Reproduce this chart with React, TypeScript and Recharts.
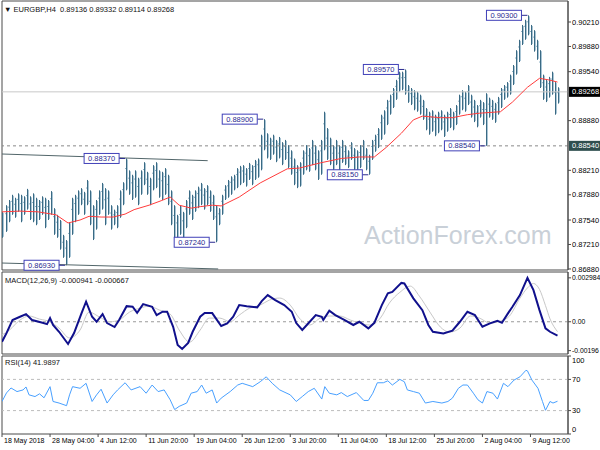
import React from 'react';
import {
  ComposedChart, Bar, Line, XAxis, YAxis, ReferenceLine, ReferenceArea, ReferenceDot,
} from 'recharts';

const FONT = '"Liberation Sans", Arial, sans-serif';

// ---------- data ----------
const BAR_STEP = 2; // each drawn bar spans two H4 periods
const HIGHS = [
  0.8765, 0.8774, 0.8781, 0.8788, 0.8784, 0.8790, 0.8788, 0.8786, 0.8796, 0.8786,
  0.8790, 0.8784, 0.8781, 0.8786, 0.8784, 0.8781, 0.8793, 0.8770, 0.8761, 0.8754,
  0.8734, 0.8727, 0.8751, 0.8784, 0.8788, 0.8794, 0.8797, 0.8792, 0.8808, 0.8794,
  0.8774, 0.8781, 0.8794, 0.8804, 0.8797, 0.8794, 0.8774, 0.8768, 0.8774, 0.8794,
  0.8805, 0.8837, 0.8821, 0.8815, 0.8821, 0.8811, 0.8821, 0.8832, 0.8819, 0.8811,
  0.8828, 0.8832, 0.8821, 0.8819, 0.8824, 0.8815, 0.8794, 0.8774, 0.8761, 0.8774,
  0.8765, 0.8781, 0.8794, 0.8788, 0.8794, 0.8799, 0.8804, 0.8797, 0.8801, 0.8794,
  0.8788, 0.8774, 0.8770, 0.8788, 0.8801, 0.8808, 0.8813, 0.8815, 0.8824, 0.8827,
  0.8828, 0.8824, 0.8831, 0.8828, 0.8835, 0.8837, 0.8869, 0.8890, 0.8871, 0.8865,
  0.8869, 0.8862, 0.8866, 0.8859, 0.8862, 0.8855, 0.8848, 0.8837, 0.8828, 0.8832,
  0.8848, 0.8855, 0.8851, 0.8862, 0.8855, 0.8848, 0.8862, 0.8900, 0.8878, 0.8865,
  0.8855, 0.8862, 0.8855, 0.8862, 0.8855, 0.8848, 0.8859, 0.8851, 0.8848, 0.8855,
  0.8862, 0.8851, 0.8842, 0.8862, 0.8869, 0.8878, 0.8896, 0.8902, 0.8916, 0.8923,
  0.8932, 0.8943, 0.8954, 0.8954, 0.8957, 0.8936, 0.8932, 0.8929, 0.8927, 0.8923,
  0.8916, 0.8905, 0.8900, 0.8902, 0.8896, 0.8900, 0.8902, 0.8896, 0.8900, 0.8905,
  0.8900, 0.8909, 0.8923, 0.8929, 0.8927, 0.8936, 0.8923, 0.8916, 0.8909, 0.8916,
  0.8913, 0.8925, 0.8919, 0.8916, 0.8912, 0.8920, 0.8932, 0.8936, 0.8940, 0.8950,
  0.8963, 0.8983, 0.8997, 0.9017, 0.9024, 0.9030, 0.9017, 0.9010, 0.8997, 0.8983,
  0.8950, 0.8943, 0.8947, 0.8954, 0.8940, 0.8933,
];
const LOWS = [
  0.8730, 0.8738, 0.8751, 0.8761, 0.8757, 0.8765, 0.8751, 0.8761, 0.8768, 0.8754,
  0.8751, 0.8747, 0.8754, 0.8761, 0.8743, 0.8754, 0.8761, 0.8734, 0.8730, 0.8714,
  0.8703, 0.8693, 0.8703, 0.8734, 0.8751, 0.8761, 0.8774, 0.8761, 0.8774, 0.8747,
  0.8727, 0.8741, 0.8761, 0.8768, 0.8747, 0.8761, 0.8741, 0.8747, 0.8743, 0.8757,
  0.8774, 0.8794, 0.8788, 0.8781, 0.8784, 0.8774, 0.8788, 0.8801, 0.8788, 0.8774,
  0.8794, 0.8797, 0.8784, 0.8781, 0.8788, 0.8774, 0.8747, 0.8730, 0.8727, 0.8734,
  0.8727, 0.8743, 0.8761, 0.8754, 0.8765, 0.8770, 0.8774, 0.8768, 0.8774, 0.8765,
  0.8754, 0.8724, 0.8747, 0.8761, 0.8781, 0.8784, 0.8788, 0.8794, 0.8797, 0.8801,
  0.8804, 0.8799, 0.8808, 0.8801, 0.8808, 0.8811, 0.8821, 0.8848, 0.8837, 0.8835,
  0.8842, 0.8832, 0.8837, 0.8828, 0.8835, 0.8824, 0.8815, 0.8801, 0.8797, 0.8799,
  0.8815, 0.8821, 0.8819, 0.8828, 0.8821, 0.8808, 0.8815, 0.8848, 0.8835, 0.8828,
  0.8821, 0.8828, 0.8821, 0.8831, 0.8828, 0.8824, 0.8835, 0.8821, 0.8819, 0.8824,
  0.8835, 0.8821, 0.8815, 0.8835, 0.8846, 0.8851, 0.8862, 0.8869, 0.8882, 0.8896,
  0.8905, 0.8916, 0.8927, 0.8929, 0.8923, 0.8912, 0.8909, 0.8902, 0.8900, 0.8896,
  0.8889, 0.8875, 0.8869, 0.8873, 0.8867, 0.8871, 0.8875, 0.8866, 0.8873, 0.8878,
  0.8875, 0.8882, 0.8896, 0.8902, 0.8900, 0.8909, 0.8892, 0.8886, 0.8879, 0.8892,
  0.8882, 0.8854, 0.8892, 0.8889, 0.8885, 0.8896, 0.8905, 0.8916, 0.8919, 0.8923,
  0.8936, 0.8950, 0.8967, 0.8990, 0.8997, 0.9003, 0.8990, 0.8981, 0.8970, 0.8932,
  0.8916, 0.8913, 0.8919, 0.8923, 0.8896, 0.8911,
];

const MA_IDX = [0, 12, 24, 36, 44, 52, 58, 66, 74, 82, 88, 98, 106, 112, 118, 126, 132, 140, 146, 158,
  172, 190, 198, 212, 226, 238, 248, 256, 266, 274, 280, 292, 300, 310, 318, 332, 340, 350, 358, 364, 370];
const MA_VAL = [0.8765, 0.8766, 0.8765, 0.8761, 0.8750, 0.8754, 0.8759, 0.8758, 0.8758, 0.8762,
  0.8768, 0.8774, 0.8780, 0.8785, 0.8774, 0.8770, 0.8772, 0.8774, 0.8773, 0.8785,
  0.8804, 0.8823, 0.8824, 0.8831, 0.8837, 0.8839, 0.8839, 0.8852, 0.8871, 0.8889,
  0.8894, 0.8892, 0.8892, 0.8896, 0.8898, 0.8900, 0.8913, 0.8933, 0.8945, 0.8943, 0.8940];

const MACD_IDX = [0, 3, 7, 12, 16, 20, 27, 30, 32, 34, 38, 44, 48, 53, 56, 60, 63, 67, 70, 75,
  78, 83, 87, 90, 94, 100, 103, 107, 110, 114, 117, 120, 124, 127, 132, 135, 140, 146, 150, 154,
  158, 163, 170, 173, 177, 182, 188, 193, 196, 200, 205, 209, 213, 214, 218, 222, 228, 234, 238, 244,
  248, 253, 257, 260, 266, 268, 274, 280, 284, 287, 294, 300, 305, 310, 315, 320, 325, 330, 333, 337,
  340, 345, 350, 354, 358, 362, 365, 370];
const MACD_VAL = [-0.00136, -0.00077, 0.00012, 0.00034, 0.00052, 0.00012, -0.00007, -0.00016, 0.00025, -0.00022,
  -0.00068, -0.00151, -0.00077, 0.00059, 0.00136, 0.00034, 0, 0.00052, -0.00009, -0.00036,
  0.00012, 0.00106, 0.00102, 0.00061, 0.0012, 0.00102, 0.00045, 0.00068, 0.00068, -0.00034,
  -0.00158, -0.00185, -0.00144, -0.00068, 0.00034, 0.00059, 0.00059, -0.00029, -0.00011, 0.00034,
  0.00113, 0.00106, 0.00098, 0.0014, 0.00181, 0.00147, 0.00113, 0.00068, -0.00009, -0.00056,
  0, 0.00045, 0.00034, 0.00012, 0.00075, 0.00045, 0.00012, -0.00022, 0, -0.00045,
  -0.00007, 0.00113, 0.00193, 0.00203, 0.00264, 0.0026, 0.00159, 0.00079, -0.00022, -0.00068,
  -0.00079, -0.00061, 0, 0.00068, 0.00045, -0.00034, -0.00011, 0.00007, -0.00007, 0.00057,
  0.00102, 0.00181, 0.00298, 0.00215, 0.00079, -0.00045, -0.00068, -0.00094];

const SIG_IDX = [0, 5, 12, 18, 25, 32, 38, 45, 52, 58, 65, 72, 78, 85, 92, 98, 105, 112, 118, 125,
  132, 138, 145, 152, 158, 165, 172, 178, 185, 192, 198, 205, 212, 218, 225, 232, 238, 245, 252, 258,
  265, 272, 278, 285, 292, 298, 305, 312, 318, 325, 332, 338, 345, 350, 354, 358, 362, 365, 370];
const SIG_VAL = [-0.0009, -0.00056, 0.00012, 0.00039, 0.00018, 0, -0.00043, -0.0011, -0.00056, 0.00066,
  0.00032, 0, 0.00012, 0.00066, 0.00093, 0.00106, 0.00079, 0.00052, -0.00056, -0.00138,
  -0.00056, 0.00025, 0.00025, 0, 0.00045, 0.00093, 0.00113, 0.00147, 0.00161, 0.00113,
  0.00025, -0.00022, 0.00025, 0.00039, 0.00039, 0.00012, -0.00009, -0.00022, 0.00025, 0.00127,
  0.002, 0.00242, 0.00174, 0.00066, -0.00036, -0.0007, -0.00043, 0.00039, 0.00025, -0.00009,
  0.00005, 0.00039, 0.0016, 0.0023, 0.0026, 0.0022, 0.0011, 0.0002, -0.00067];

const RSI_IDX = [0, 3, 6, 10, 14, 16, 18, 22, 25, 28, 32, 34, 38, 43, 45, 47, 52, 56, 60, 63,
  66, 70, 74, 77, 82, 86, 92, 96, 100, 104, 108, 112, 115, 118, 123, 126, 130, 133, 136, 140,
  143, 146, 152, 157, 160, 167, 172, 176, 180, 185, 192, 196, 200, 204, 208, 213, 215, 218, 223, 226,
  230, 236, 241, 244, 247, 250, 254, 257, 260, 265, 268, 270, 274, 278, 282, 287, 293, 297, 300, 304,
  307, 310, 314, 317, 320, 323, 327, 330, 334, 337, 341, 345, 349, 350, 353, 357, 360, 362, 365, 367, 370];
const RSI_VAL = [41.7, 52.7, 59, 54.4, 56.5, 60.3, 50.2, 48, 51.5, 46.4, 60.7, 41.7, 39.7, 36.3, 50.2, 60.7, 58.6, 65, 41.7, 50.2,
  57.4, 39.7, 50.2, 56.5, 65.7, 56.5, 60.7, 52.3, 62.8, 54.4, 56.5, 43.9, 31.3, 35.4, 39.7, 52.3, 54.4, 62.8, 52.3, 56.5,
  39.7, 46, 54.4, 62.8, 65, 60.7, 67, 73.3, 65, 56.5, 50.2, 41.7, 48, 54.4, 58.6, 44.8, 60.7, 52.3, 50.2, 53.1,
  48, 53.1, 43, 43, 52.3, 65.7, 65.7, 68.2, 62.8, 70, 67, 56.5, 54.4, 52.3, 39.7, 41.7, 39.7, 41.7, 46, 58.6,
  62.8, 62.8, 52.3, 43.9, 39.7, 54.4, 52.3, 44.8, 65, 60.7, 69.1, 73.3, 81.7, 80.9, 69.1, 58.6, 41.7, 30.4, 41.7, 39.7, 42.0];

const TIME_TICKS = [0, 32, 64, 96, 128, 160, 192, 224, 256, 288, 320, 352];
const TIME_LABELS = ['18 May 2018', '28 May 04:00', '4 Jun 12:00', '11 Jun 20:00', '19 Jun 04:00', '26 Jun 12:00',
  '3 Jul 20:00', '11 Jul 04:00', '18 Jul 12:00', '25 Jul 20:00', '2 Aug 04:00', '9 Aug 12:00'];
const X_MAX = 377;

const PRICE_DOMAIN = [0.86866, 0.90493];
const PRICE_TICKS = [0.8688, 0.8721, 0.8754, 0.8788, 0.8821, 0.8888, 0.8954, 0.8988, 0.9021];
const MACD_DOMAIN = [-0.00219, 0.00338];
const MACD_TICKS = [-0.00196, 0, 0.002984];
const RSI_TICKS = [0, 30, 70, 100];

const SWING_IDX = [42, 82, 142, 174, 244, 268, 322, 350];
const SWING_PRICE = [0.8693, 0.8837, 0.8724, 0.8890, 0.8815, 0.8957, 0.8854, 0.9030];

const LAST_PRICE = 0.89268;
const SUPPORT = 0.8854;
const CHANNEL_UPPER = [{ x: 0, y: 0.8843 }, { x: 137, y: 0.8834 }];
const CHANNEL_LOWER = [{ x: 0, y: 0.8696 }, { x: 144, y: 0.8688 }];

// ---------- tables ----------
const mainRows: any[] = HIGHS.map((h, i) => ({ idx: i * BAR_STEP, hl: [LOWS[i], h] }));
MA_IDX.forEach((ix, j) => {
  const r = mainRows.find((row) => row.idx === ix);
  if (r) r.ma = MA_VAL[j];
});

function mergeRows(parts: [number[], number[], string][]) {
  const m = new Map<number, any>();
  parts.forEach(([ids, vals, key]) => {
    ids.forEach((ix, j) => {
      if (!m.has(ix)) m.set(ix, { idx: ix });
      m.get(ix)[key] = vals[j];
    });
  });
  return Array.from(m.values()).sort((a, b) => a.idx - b.idx);
}
const macdRows = mergeRows([[MACD_IDX, MACD_VAL, 'macd'], [SIG_IDX, SIG_VAL, 'sig']]);
const rsiRows = mergeRows([[RSI_IDX, RSI_VAL, 'rsi']]);

// ---------- shapes ----------
const PriceBar = (p: any) => {
  const { x, y, width, height } = p;
  if (height == null || isNaN(height)) return null;
  const cx = Math.round(x + width / 2);
  return (
    <g>
      <rect x={cx - 1} y={y + height * 0.3} width={1} height={1} fill="#8fb2c6" />
      <rect x={cx} y={y} width={1} height={Math.max(height, 1)} fill="#3a6a84" />
      <rect x={cx + 1} y={y + 1} width={1} height={Math.max(height - 2, 1)} fill="#a9c5d5" />
    </g>
  );
};

const swingShape = (text: string) => (p: any) => {
  const { cx, cy } = p;
  const w = 35;
  const h = 10;
  const gap = 6;
  return (
    <g>
      <line x1={cx - gap} y1={cy} x2={cx} y2={cy} stroke="#2a2a90" strokeWidth={1} />
      <rect x={cx - gap - w} y={cy - h / 2} width={w} height={h} fill="#ffffff" stroke="#4040b8" strokeWidth={1} />
      <text x={cx - gap - w / 2} y={cy} dy="0.35em" textAnchor="middle" fontSize={7.5} fontFamily={FONT} fill="#2a2a90">
        {text}
      </text>
    </g>
  );
};

const axisBox = (text: string, bg: string) => (p: any) => (
  <g>
    <rect x={p.cx + 1} y={p.cy - 5} width={31} height={10} fill={bg} />
    <text x={p.cx + 4} y={p.cy} dy="0.35em" fontSize={7.5} fontFamily={FONT} fill="#ffffff">{text}</text>
  </g>
);

const TimeTick = (p: any) => {
  const i = TIME_TICKS.indexOf(p.payload.value);
  return (
    <text x={p.x + 2} y={p.y} dy="0.71em" textAnchor="start" fontSize={7} fontFamily={FONT} fill="#000">
      {TIME_LABELS[i]}
    </text>
  );
};

const RsiTick = (p: any) => {
  const v = p.payload.value;
  const dy = v === 100 ? 4 : v === 0 ? -5 : 0;
  return (
    <text x={p.x} y={p.y + dy} dy="0.35em" textAnchor="start" fontSize={7.5} fontFamily={FONT} fill="#000">
      {v}
    </text>
  );
};

const MacdTick = (p: any) => {
  const v = p.payload.value;
  const label = v === 0 ? '0.00' : v > 0 ? v.toFixed(6) : v.toFixed(5);
  return (
    <text x={p.x} y={p.y} dy="0.35em" textAnchor="start" fontSize={6.8} fontFamily={FONT} fill="#000">
      {label}
    </text>
  );
};

const yTick = { fontSize: 7.5, fill: '#000', fontFamily: FONT };
const FRAME = '#4a4a4a';

const textStyle: React.CSSProperties = {
  position: 'absolute', fontFamily: FONT, fontSize: 7.5, color: '#111', whiteSpace: 'nowrap', lineHeight: '9px',
};

export default function App() {
  return (
    <div style={{ position: 'absolute', left: 0, top: 0, width: 600, height: 450, background: '#fff', overflow: 'hidden' }}>
      <div style={{
        position: 'absolute', left: 364, top: 221, fontFamily: FONT, fontSize: 25, color: '#c9d0d8', whiteSpace: 'nowrap',
      }}>ActionForex.com</div>

      <div style={{ position: 'absolute', left: 0, top: 0 }}>
        <ComposedChart width={600} height={278} data={mainRows} margin={{ top: 1, right: 0, bottom: 8, left: 2 }}>
          <XAxis dataKey="idx" type="number" domain={[0, X_MAX]} hide allowDataOverflow />
          <YAxis orientation="right" width={32} domain={PRICE_DOMAIN} ticks={PRICE_TICKS} interval={0}
            allowDataOverflow tickFormatter={(v: number) => v.toFixed(5)} tick={yTick}
            tickSize={3} tickMargin={1} axisLine={{ stroke: FRAME }} tickLine={{ stroke: FRAME }} />
          <ReferenceArea x1={0} x2={X_MAX} y1={PRICE_DOMAIN[0]} y2={PRICE_DOMAIN[1]} fill="none" stroke={FRAME} ifOverflow="visible" />
          <ReferenceLine y={LAST_PRICE} stroke="#c8c8c8" strokeWidth={1} />
          <ReferenceLine y={SUPPORT} stroke="#8a8a8a" strokeDasharray="3 3" strokeWidth={1} />
          <ReferenceLine segment={CHANNEL_UPPER} stroke="#52666a" strokeWidth={1} ifOverflow="visible" />
          <ReferenceLine segment={CHANNEL_LOWER} stroke="#52666a" strokeWidth={1} ifOverflow="visible" />
          <Bar dataKey="hl" barSize={2} fill="#4b7c97" shape={<PriceBar />} isAnimationActive={false} />
          <Line dataKey="ma" type="linear" stroke="#ff3b3b" strokeWidth={1} dot={false} connectNulls isAnimationActive={false} />
          {SWING_IDX.map((ix, i) => (
            <ReferenceDot key={ix} x={ix} y={SWING_PRICE[i]} ifOverflow="visible"
              shape={swingShape(SWING_PRICE[i].toFixed(5))} />
          ))}
          <ReferenceDot x={X_MAX} y={LAST_PRICE} ifOverflow="visible" shape={axisBox(LAST_PRICE.toFixed(5), '#000000')} />
          <ReferenceDot x={X_MAX} y={SUPPORT} ifOverflow="visible" shape={axisBox(SUPPORT.toFixed(5), '#2f4f4f')} />
        </ComposedChart>
      </div>

      <div style={{ position: 'absolute', left: 0, top: 271 }}>
        <ComposedChart width={600} height={84} data={macdRows} margin={{ top: 1, right: 0, bottom: 1, left: 2 }}>
          <XAxis dataKey="idx" type="number" domain={[0, X_MAX]} hide allowDataOverflow />
          <YAxis orientation="right" width={32} domain={MACD_DOMAIN} ticks={MACD_TICKS} interval={0}
            allowDataOverflow tick={<MacdTick />} tickSize={3} tickMargin={1}
            axisLine={{ stroke: FRAME }} tickLine={{ stroke: FRAME }} />
          <ReferenceArea x1={0} x2={X_MAX} y1={MACD_DOMAIN[0]} y2={MACD_DOMAIN[1]} fill="none" stroke={FRAME} ifOverflow="visible" />
          <ReferenceLine y={0} stroke="#9a9a9a" strokeDasharray="3 3" />
          <Line dataKey="sig" type="monotone" stroke="#c8c8c8" strokeWidth={1} dot={false} connectNulls isAnimationActive={false} />
          <Line dataKey="macd" type="linear" stroke="#10108c" strokeWidth={2} dot={false} connectNulls isAnimationActive={false} />
        </ComposedChart>
      </div>

      <div style={{ position: 'absolute', left: 0, top: 355 }}>
        <ComposedChart width={600} height={95} data={rsiRows} margin={{ top: 1, right: 0, bottom: 0, left: 2 }}>
          <XAxis dataKey="idx" type="number" domain={[0, X_MAX]} ticks={TIME_TICKS} interval={0} height={16}
            allowDataOverflow tick={<TimeTick />} tickSize={3} tickMargin={1}
            axisLine={false} tickLine={{ stroke: FRAME }} />
          <YAxis orientation="right" width={32} domain={[0, 100]} ticks={RSI_TICKS} interval={0}
            tick={<RsiTick />} tickSize={3} tickMargin={1}
            axisLine={{ stroke: FRAME }} tickLine={{ stroke: FRAME }} />
          <ReferenceArea x1={0} x2={X_MAX} y1={0} y2={100} fill="none" stroke={FRAME} ifOverflow="visible" />
          <ReferenceLine y={70} stroke="#bcbcbc" strokeDasharray="3 3" />
          <ReferenceLine y={30} stroke="#bcbcbc" strokeDasharray="3 3" />
          <Line dataKey="rsi" type="linear" stroke="#48a0ff" strokeWidth={1} dot={false} connectNulls isAnimationActive={false} />
        </ComposedChart>
      </div>

      <div style={{ ...textStyle, left: 4, top: 5 }}>▼ EURGBP,H4&nbsp; 0.89136 0.89332 0.89114 0.89268</div>
      <div style={{ ...textStyle, left: 5, top: 276 }}>MACD(12,26,9) -0.000941 -0.000667</div>
      <div style={{ ...textStyle, left: 5, top: 358 }}>RSI(14) 41.9897</div>
    </div>
  );
}
